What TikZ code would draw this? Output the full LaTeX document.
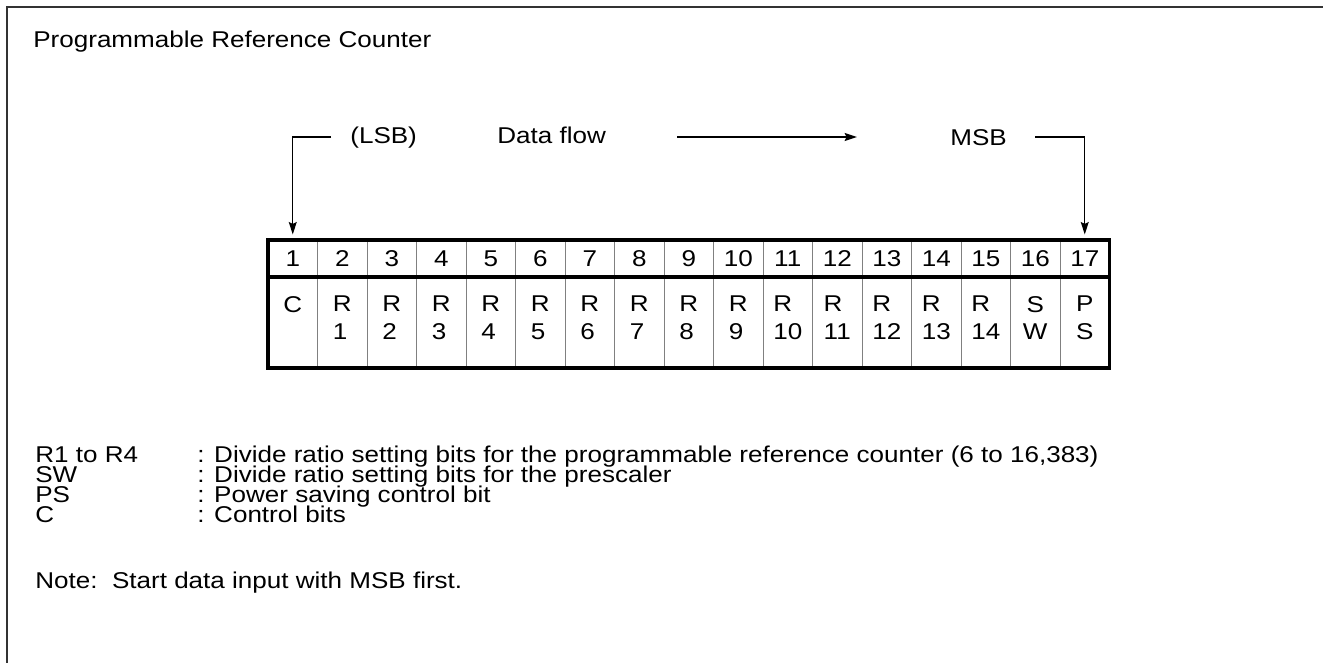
\documentclass[tikz,border=0pt]{standalone}
\usepackage{fontspec}
\setmainfont{Liberation Sans}[FakeStretch=1.14]
\usetikzlibrary{arrows.meta}
\tikzstyle{line} = [draw, line width=0.8pt, -{Stealth[length=7pt,width=4.5pt,inset=1pt]}]
\tikzstyle{txt} = [anchor=base west, inner sep=0pt, font=\fontsize{13}{15.9}\selectfont]
\tikzstyle{numcell} = [minimum width=0.99cm, minimum height=0.74cm, inner sep=0pt,
    font=\fontsize{13}{15.9}\selectfont]
\tikzstyle{bitcell} = [inner sep=0pt, align=left, font=\fontsize{13}{15.9}\selectfont]
\tikzstyle{grid} = [draw, gray, line width=0.5pt]
\tikzstyle{border} = [draw, line width=2.2pt]

\begin{document}
\begin{tikzpicture}[x=0.02cm, y=-0.02cm]
        \useasboundingbox (0,0) rectangle (1323,663);
        % Frame
        \draw [line width=1.1pt, black!80] (7,663) -- (7,7) -- (1323,7);
        % Place nodes
        \node [txt] (title) at (33,47) {Programmable Reference Counter};
        \node [txt] (lsb) at (350,143) {(LSB)};
        \node [txt] (flow) at (497,143) {Data flow};
        \node [txt] (msb) at (950,145) {MSB};
        \foreach \i/\hi/\lo in {1/C/\phantom{1}, 2/R/1, 3/R/2, 4/R/3, 5/R/4, 6/R/5, 7/R/6,
            8/R/7, 9/R/8, 10/R/9, 11/R/10, 12/R/11, 13/R/12, 14/R/13, 15/R/14} {
            \node [numcell] (num\i) at (243.25+49.5*\i,258.5) {\i};
            \node [bitcell] (bit\i) at (243.25+49.5*\i,318) {\hi\\\lo};
        }
        \node [numcell] (num16) at (1035.25,258.5) {16};
        \node [bitcell, align=center] (bit16) at (1035.25,318) {S\\W};
        \node [numcell] (num17) at (1084.75,258.5) {17};
        \node [bitcell, align=center] (bit17) at (1084.75,318) {P\\S};
        % Table
        \path [grid] foreach \i in {1,...,16} {(268+49.5*\i,240) -- (268+49.5*\i,368)};
        \path [border] (268,277) -- (1109.5,277);
        \path [border] (268,240) rectangle (1109.5,368);
        % Legend
        \node [txt] (r1) at (35,462) {R1 to R4};
        \node [txt] (r1_info) at (197,462) {: Divide ratio setting bits for the programmable reference counter (6 to 16,383)};
        \node [txt] (sw) at (35,482) {SW};
        \node [txt] (sw_info) at (197,482) {: Divide ratio setting bits for the prescaler};
        \node [txt] (ps) at (35,502) {PS};
        \node [txt] (ps_info) at (197,502) {: Power saving control bit};
        \node [txt] (c) at (35,522) {C};
        \node [txt] (c_info) at (197,522) {: Control bits};
        \node [txt] (note) at (35,588) {Note:\ \ Start data input with MSB first.};
        % Draw edges
        \coordinate (lsbend) at (331,137);
        \coordinate (flowstart) at (677,137);
        \coordinate (flowend) at (857,137);
        \coordinate (msbend) at (1035,137);
        \path [line, shorten >=3pt] (lsbend) -| (num1.north);
        \path [line] (flowstart) -- (flowend);
        \path [line, shorten >=3pt] (msbend) -| (num17.north);
    \end{tikzpicture}
\end{document}
